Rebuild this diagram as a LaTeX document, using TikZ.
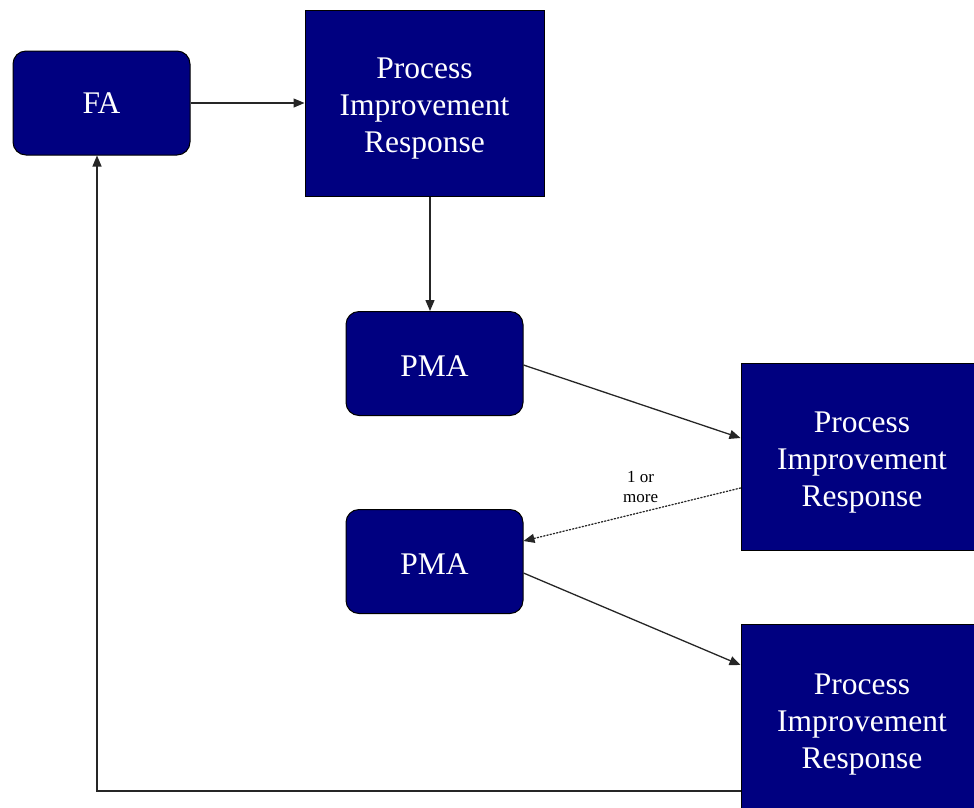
\documentclass[tikz,border=0pt]{standalone}
\usepackage{fontspec}
\setmainfont{Liberation Serif}
\usetikzlibrary{arrows.meta}
\definecolor{boxnavy}{RGB}{0,0,128}
% content lowered by #1 while keeping its natural height and depth
\newcommand{\droptext}[2]{\raisebox{-#1}[\height][\depth]{\begin{tabular}{@{}c@{}}#2\end{tabular}}}
\begin{document}
\begin{tikzpicture}[x=1pt,y=-1pt,
  boxbase/.style={draw=black, line width=1pt, fill=boxnavy, text=white,
    align=center, inner sep=0pt, font=\fontsize{31.5}{37}\selectfont},
  actor/.style={boxbase, rounded corners=13pt, minimum width=177pt, minimum height=104pt},
  response/.style={boxbase, minimum width=242pt, minimum height=187pt},
  flow/.style={draw=black!85, line width=1.3pt, -{Triangle[length=11pt,width=9pt]}},
  optflow/.style={flow, dotted, line cap=round}]
\useasboundingbox (0,0) rectangle (974,807);
\clip (0,0) rectangle (974,807);

% actors
\node[actor] (fa)   at (101.5,103)   {FA};
\node[actor] (pma1) at (434.5,363.5) {\droptext{6pt}{PMA}};
\node[actor] (pma2) at (434.5,561.5) {\droptext{6pt}{PMA}};

% responses
\node[response, minimum width=239pt, minimum height=186pt] (pir1) at (424.5,103)
  {\droptext{5pt}{Process\\Improvement\\Response}};
\node[response] (pir2) at (862,456.5)
  {\droptext{6pt}{Process\\Improvement\\Response}};
\node[response, minimum height=192pt] (pir3) at (862,720)
  {\droptext{4pt}{Process\\Improvement\\Response}};

% connectors
\draw[flow] (fa.east) -- (pir1.west);
\draw[flow] ([xshift=5.5pt]pir1.south) -- ([xshift=5.5pt]pir1.south |- pma1.north);
\draw[flow] ([yshift=-1.5pt]pma1.east) -- ([yshift=18.5pt]pir2.west);
\draw[optflow] ([yshift=-31.5pt]pir2.west) -- ([yshift=20.5pt]pma2.east)
  node[pos=0.46, above=9pt, inner sep=0pt, align=center,
       font=\fontsize{17}{20}\selectfont] (mult) {1 or\\more};
\draw[flow] ([yshift=-11.5pt]pma2.east) -- ([yshift=55pt]pir3.west);
\draw[flow] ([yshift=-71pt]pir3.west) -| ([xshift=-4.5pt]fa.south);
\end{tikzpicture}
\end{document}
